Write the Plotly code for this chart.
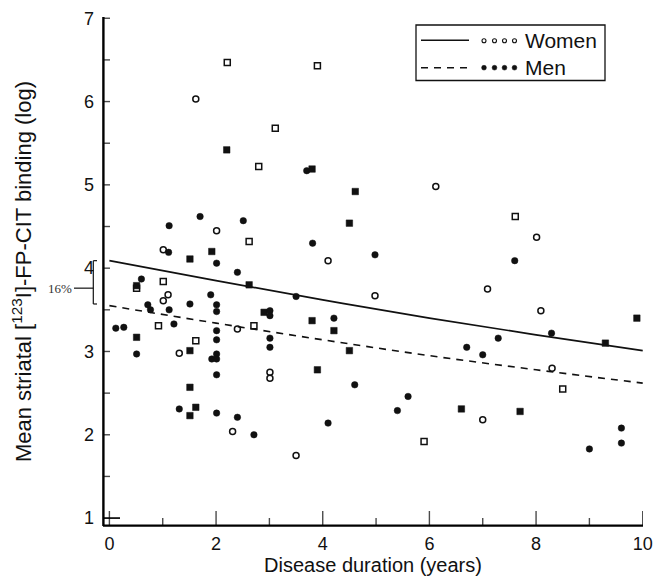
import plotly.graph_objects as go

# ---------------- data ----------------
women_x = [2.21, 3.90, 1.62, 3.11, 2.80, 2.01, 2.62, 1.01, 4.10, 6.12, 7.61, 8.01,
           1.01, 1.10, 1.01, 0.51, 0.92, 2.40, 2.71, 1.62, 1.31, 3.01, 3.01, 2.31,
           3.50, 4.98, 7.09, 8.09, 8.30, 8.50, 7.00, 5.90]
women_y = [6.47, 6.43, 6.03, 5.68, 5.22, 4.45, 4.32, 4.22, 4.09, 4.98, 4.62, 4.37,
           3.84, 3.68, 3.61, 3.76, 3.31, 3.27, 3.31, 3.13, 2.98, 2.75, 2.68, 2.04,
           1.75, 3.67, 3.75, 3.49, 2.80, 2.55, 2.18, 1.92]
women_sym = ["square-open", "square-open", "circle-open", "square-open", "square-open",
             "circle-open", "square-open", "circle-open", "circle-open", "circle-open",
             "square-open", "circle-open", "square-open", "circle-open", "circle-open",
             "square-open", "square-open", "circle-open", "square-open", "square-open",
             "circle-open", "circle-open", "circle-open", "circle-open", "circle-open",
             "circle-open", "circle-open", "circle-open", "circle-open", "square-open",
             "circle-open", "square-open"]

men_x = [2.20, 3.70, 3.80, 4.61, 1.70, 1.12, 2.51, 4.50, 3.81, 1.11, 1.92, 1.51,
         2.01, 2.40, 4.98, 7.60,
         0.60, 0.51, 2.62, 1.90, 3.50, 0.72, 0.77, 1.12, 1.51, 2.01, 2.01, 2.90,
         3.01, 3.01, 0.12, 0.27, 1.21, 2.01, 0.51, 2.01, 3.01, 3.01, 3.80, 4.21,
         4.21, 0.51, 1.51, 4.50, 1.92, 2.01, 2.01, 2.01, 3.90, 1.51, 4.60, 1.31,
         1.62, 1.51, 2.01, 2.40, 4.10, 2.71,
         9.89, 8.29, 7.29, 9.30, 6.70, 7.00, 5.60, 5.40, 6.60, 7.70, 9.00, 9.60, 9.60]
men_y = [5.42, 5.17, 5.19, 4.92, 4.62, 4.51, 4.57, 4.54, 4.30, 4.19, 4.20, 4.11,
         4.06, 3.95, 4.16, 4.09,
         3.87, 3.79, 3.80, 3.68, 3.66, 3.56, 3.50, 3.50, 3.57, 3.56, 3.48, 3.47,
         3.49, 3.43, 3.28, 3.29, 3.33, 3.25, 3.17, 3.14, 3.16, 3.05, 3.37, 3.40,
         3.25, 2.97, 3.01, 3.01, 2.91, 2.97, 2.91, 2.72, 2.78, 2.57, 2.60, 2.31,
         2.33, 2.23, 2.26, 2.21, 2.14, 2.00,
         3.40, 3.22, 3.16, 3.10, 3.05, 2.96, 2.46, 2.29, 2.31, 2.28, 1.83, 2.08, 1.90]
men_sym = ["square", "circle", "square", "square", "circle", "circle", "circle", "square",
           "circle", "circle", "square", "square", "circle", "circle", "circle", "circle",
           "circle", "square", "square", "circle", "circle", "circle", "circle", "circle",
           "circle", "circle", "circle", "square", "circle", "circle", "circle", "circle",
           "circle", "circle", "square", "circle", "circle", "circle", "square", "circle",
           "square", "circle", "square", "square", "circle", "circle", "circle", "circle",
           "square", "square", "circle", "circle", "square", "square", "circle", "circle",
           "circle", "circle",
           "square", "circle", "circle", "square", "circle", "circle", "circle", "circle",
           "square", "square", "circle", "circle", "circle"]

# regression lines (log model)
fit_x = [0, 2, 4, 6, 8, 10]
women_fit = [4.09, 3.85, 3.62, 3.40, 3.20, 3.01]
men_fit = [3.55, 3.34, 3.14, 2.95, 2.78, 2.62]

x_major = [0, 2, 4, 6, 8, 10]
x_all = [0, 1, 2, 3, 4, 5, 6, 7, 8, 9, 10]
y_major = [1, 2, 3, 4, 5, 6, 7]
y_all = [1, 1.5, 2, 2.5, 3, 3.5, 4, 4.5, 5, 5.5, 6, 6.5, 7]

# ---------------- figure ----------------
W, H = 655, 586
ML, MR, MT, MB = 103, 12, 17, 60
PW, PH = W - ML - MR, H - MT - MB
XR = [-0.12, 10.005]
YR = [0.905, 7.015]


def px(xp):
    return (xp - ML) / PW


def py(yp):
    return (H - MB - yp) / PH


FONT = "Liberation Sans, Arial, sans-serif"
INK = "#111111"
fig = go.Figure()

# axis lines drawn as clipped traces along the plot edges (half of the width is visible)
fig.add_trace(go.Scatter(x=[XR[0], XR[1]], y=[YR[0], YR[0]], mode="lines",
                         line=dict(color="black", width=3.2), showlegend=False, hoverinfo="skip"))
fig.add_trace(go.Scatter(x=[XR[0], XR[0]], y=[YR[0], YR[1]], mode="lines",
                         line=dict(color="black", width=3.2), showlegend=False, hoverinfo="skip"))
# inside ticks: line markers centred on the axis, clipped to the plot area
fig.add_trace(go.Scatter(x=x_all, y=[YR[0]] * len(x_all), mode="markers", cliponaxis=True,
                         marker=dict(symbol="line-ns",
                                     size=[(15 if v in x_major else 8) / 0.7 for v in x_all],
                                     line=dict(color="black", width=1.4)),
                         showlegend=False, hoverinfo="skip"))
fig.add_trace(go.Scatter(x=[XR[0]] * len(y_all), y=y_all, mode="markers", cliponaxis=True,
                         marker=dict(symbol="line-ew",
                                     size=[(17 if v == 1 else 7) / 0.7 for v in y_all],
                                     line=dict(color="black", width=1.4)),
                         showlegend=False, hoverinfo="skip"))

fig.add_trace(go.Scatter(x=fit_x, y=women_fit, mode="lines", line=dict(color=INK, width=1.7),
                         line_shape="spline", showlegend=False, hoverinfo="skip"))
fig.add_trace(go.Scatter(x=fit_x, y=men_fit, mode="lines",
                         line=dict(color=INK, width=1.6, dash="7px,6px"),
                         line_shape="spline", showlegend=False, hoverinfo="skip"))

fig.add_trace(go.Scatter(x=women_x, y=women_y, mode="markers", showlegend=False,
                         marker=dict(symbol=women_sym, size=6, color=INK,
                                     line=dict(color=INK, width=1.5))))
fig.add_trace(go.Scatter(x=men_x, y=men_y, mode="markers", showlegend=False,
                         marker=dict(symbol=men_sym, size=6.5, color=INK,
                                     line=dict(color=INK, width=0.5))))

AX = dict(color="black", width=1.6)
TK = dict(color="black", width=1.4)
BR = dict(color=INK, width=1.2)
shapes = []
# axis lines (also as shapes)
shapes.append(dict(type="line", xref="paper", yref="paper", x0=0, x1=1, y0=0, y1=0, line=AX))
shapes.append(dict(type="line", xref="paper", yref="paper", x0=0, x1=0, y0=0, y1=1, line=AX))
# long tick at y = 1
shapes.append(dict(type="line", xref="paper", yref="y", xsizemode="pixel", xanchor=0,
                   x0=0, x1=17, y0=1, y1=1, line=TK))

# 16% bracket
bx = px(93.3)
shapes.append(dict(type="line", xref="paper", yref="y", x0=bx, x1=bx, y0=women_fit[0], y1=3.57,
                   line=BR))
shapes.append(dict(type="line", xref="paper", yref="y", x0=bx, x1=px(97), y0=women_fit[0],
                   y1=women_fit[0], line=BR))
shapes.append(dict(type="line", xref="paper", yref="y", x0=bx, x1=px(97), y0=3.57, y1=3.57,
                   line=BR))
shapes.append(dict(type="line", xref="paper", yref="y", x0=px(74), x1=bx, y0=3.76, y1=3.76,
                   line=BR))

# legend box
shapes.append(dict(type="rect", xref="paper", yref="paper", x0=px(416), x1=px(605),
                   y0=py(80.5), y1=py(25), line=dict(color=INK, width=1.3),
                   fillcolor="white", layer="above"))
shapes.append(dict(type="line", xref="paper", yref="paper", x0=px(421), x1=px(469),
                   y0=py(40.3), y1=py(40.3), line=dict(color=INK, width=1.6)))
shapes.append(dict(type="line", xref="paper", yref="paper", x0=px(421), x1=px(469),
                   y0=py(67.7), y1=py(67.7), line=dict(color=INK, width=1.5, dash="7px,6px")))
for cx in [484, 494.5, 504.5, 514.5]:
    shapes.append(dict(type="circle", xref="paper", yref="paper", xsizemode="pixel",
                       ysizemode="pixel", xanchor=px(cx), yanchor=py(40.8),
                       x0=-2, x1=2, y0=-2, y1=2, line=dict(color=INK, width=1.1)))
    shapes.append(dict(type="circle", xref="paper", yref="paper", xsizemode="pixel",
                       ysizemode="pixel", xanchor=px(cx), yanchor=py(67.7),
                       x0=-2.4, x1=2.4, y0=-2.4, y1=2.4, fillcolor=INK,
                       line=dict(color=INK, width=0.5)))

annotations = [
    dict(text="Women", xref="paper", yref="paper", x=px(523), y=py(40.5), xanchor="left",
         yanchor="middle", showarrow=False, font=dict(family=FONT, size=21, color=INK)),
    dict(text="Men", xref="paper", yref="paper", x=px(523), y=py(67.5), xanchor="left",
         yanchor="middle", showarrow=False, font=dict(family=FONT, size=21, color=INK)),
    dict(text="16%", xref="paper", yref="y", x=px(74), y=3.76, xanchor="right",
         yanchor="middle", showarrow=False,
         font=dict(family="Liberation Serif, Times New Roman, serif", size=13, color="#333")),
]

fig.update_layout(
    template="none",
    width=W, height=H,
    margin=dict(l=ML, r=MR, t=MT, b=MB, pad=0),
    paper_bgcolor="white", plot_bgcolor="white",
    font=dict(family=FONT, color=INK),
    shapes=shapes, annotations=annotations,
    showlegend=False,
    xaxis=dict(
        range=XR, showgrid=False, zeroline=False, showline=False, automargin=False,
        tickvals=x_major, ticktext=[str(v) for v in x_major], ticks="",
        tickfont=dict(size=18, family=FONT, color=INK), ticklabelstandoff=5,
        title=dict(text="Disease duration (years)",
                   font=dict(size=20, family=FONT, color=INK), standoff=0),
    ),
    yaxis=dict(
        range=YR, showgrid=False, zeroline=False, showline=False, automargin=False,
        tickvals=y_major, ticktext=[str(v) for v in y_major], ticks="",
        tickfont=dict(size=18, family=FONT, color=INK), ticklabelstandoff=8,
        title=dict(text="Mean striatal [<sup>123</sup>I]-FP-CIT binding (log)",
                   font=dict(size=22, family=FONT, color=INK), standoff=46),
    ),
)

fig.write_html("out.html", config={"displayModeBar": False},
               post_script="document.body.style.margin='0';")
